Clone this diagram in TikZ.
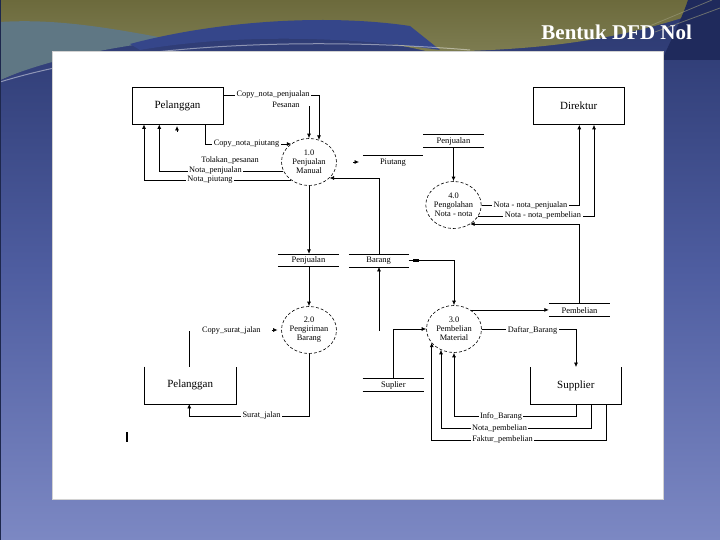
\documentclass[tikz,border=0pt]{standalone}
\usepackage{fontspec}
\setmainfont{Liberation Serif}
\usetikzlibrary{shapes.geometric,arrows.meta,calc}
\definecolor{bgtop}{HTML}{2A376E}
\definecolor{bgmid}{HTML}{4E5DA0}
\definecolor{bgbot}{HTML}{7C88C3}
\definecolor{olivetop}{HTML}{6C6A3C}
\definecolor{olivebot}{HTML}{86865C}
\definecolor{tealgrey}{HTML}{5F7784}
\definecolor{bandblue}{HTML}{35468A}
\definecolor{navy}{HTML}{1F2A5C}
\begin{document}
\begin{tikzpicture}[x=1pt,y=-1pt,
  flow/.style={draw, line width=0.7pt, -{Latex[length=4.5pt,width=4pt]}},
  plain/.style={draw, line width=0.7pt},
  proc/.style={ellipse, draw, dash pattern=on 3pt off 2pt, line width=0.6pt, minimum width=55pt, minimum height=47pt, inner sep=0pt, align=center, font=\fontsize{8.4}{9}\selectfont},
  ent/.style={rectangle, draw, line width=0.8pt, minimum width=91pt, minimum height=37pt, font=\fontsize{11}{12}\selectfont},
  openent/.style={rectangle, minimum width=91pt, minimum height=37pt, font=\fontsize{11}{12}\selectfont},
  store/.style={minimum height=12.4pt, inner sep=0pt, font=\fontsize{8.5}{9}\selectfont},
  lbl/.style={fill=white, inner sep=1.5pt, font=\fontsize{8.3}{9}\selectfont},
  freelbl/.style={inner sep=1pt, font=\fontsize{8.3}{9}\selectfont}
]
\useasboundingbox (0,0) rectangle (720,540);
% background
\shade[top color=bgtop, bottom color=bgbot, middle color=bgmid] (0,0) rectangle (720,540);
\shade[top color=olivetop, bottom color=olivebot] (0,0) -- (720,0) -- (720,5) .. controls (620,42) and (540,50) .. (430,52) .. controls (300,20) and (120,25) .. (0,80) -- cycle;
\fill[tealgrey] (0,22) .. controls (60,18) and (120,30) .. (175,40) .. controls (110,46) and (40,62) .. (0,80) -- cycle;
\fill[bandblue] (130,44) .. controls (220,20) and (330,14) .. (410,26) -- (440,50) .. controls (330,34) and (220,36) .. (140,50) -- cycle;
\fill[navy] (688,0) -- (720,0) -- (720,60) -- (662,60) .. controls (672,38) and (682,18) .. (688,0) -- cycle;
\draw[olivebot!80!white, opacity=0.6, line width=0.8pt] (640,30) -- (712,0) (655,32) -- (720,8);
\draw[white, opacity=0.45, line width=1pt] (0,82) .. controls (120,45) and (300,36) .. (470,50);
\draw[bgtop!70!black, line width=1pt] (0,0) rectangle (720,540);
% title
\node[font=\fontsize{21}{21}\selectfont\bfseries, text=white, anchor=base] (title) at (616.7,39.3) {Bentuk DFD Nol};
% white panel
\fill[white] (52,51.5) rectangle (663.5,499.5);
\draw[gray!35, line width=0.8pt] (52,51.5) rectangle (663.5,499.5);

% entities
\node[ent] (epel1) at (177.5,105.5) {Pelanggan};
\node[ent] (edir) at (578.7,105.9) {Direktur};
\node[openent] (epel2) at (190.2,385.2) {Pelanggan};
\draw[plain] (epel2.north west) -- (epel2.south west) -- (epel2.south east) -- (epel2.north east);
\node[openent] (esup) at (575.8,385.8) {Supplier};
\draw[plain] (esup.north west) -- (esup.south west) -- (esup.south east) -- (esup.north east);

% processes
\node[proc] (p1) at (309,162) {1.0\\Penjualan\\Manual};
\node[proc] (p2) at (309,330) {2.0\\Pengiriman\\Barang};
\node[proc] (p3) at (454,329) {3.0\\Pembelian\\Material};
\node[proc] (p4) at (453.5,205) {4.0\\Pengolahan\\Nota - nota};

% stores
\node[store, minimum width=60pt] (sperj) at (453.5,141) {Penjualan};
\draw[plain] (sperj.north west) -- (sperj.north east) (sperj.south west) -- (sperj.south east);
\node[store, minimum width=60pt] (spiut) at (393,162.2) {Piutang};
\draw[plain] (spiut.north west) -- (spiut.north east);
\node[store, minimum width=61pt] (spenj) at (308.5,260.3) {Penjualan};
\draw[plain] (spenj.north west) -- (spenj.north east) (spenj.south west) -- (spenj.south east);
\node[store, minimum width=59.5pt] (sbar) at (378.7,260.5) {Barang};
\draw[plain] (sbar.north west) -- (sbar.north east) (sbar.south west) -- (sbar.south east);
\node[store, minimum width=61pt] (spemb) at (579.5,310.2) {Pembelian};
\draw[plain] (spemb.north west) -- (spemb.north east) (spemb.south west) -- (spemb.south east);
\node[store, minimum width=61pt] (ssupl) at (393.3,385.2) {Suplier};
\draw[plain] (ssupl.north west) -- (ssupl.north east) (ssupl.south west) -- (ssupl.south east);

% 1 Copy_nota_penjualan
\coordinate (k1) at (319,95);
\draw[flow] (epel1.east |- k1) -- (k1) -- (k1 |- p1.65.5);
\node[lbl] (l1) at (273,95) {Copy\_nota\_penjualan};
% 2 Pesanan
\coordinate (k2) at (309,106.5);
\draw[flow] (k2) -- (p1.north);
\node[freelbl] (l2) at (286,105) {Pesanan};
% 3 Copy_nota_piutang
\coordinate (k3) at (205,144);
\draw[flow] (epel1.south -| k3) -- (k3) -- (k3 -| p1.134.5);
\node[lbl] (l3) at (246.5,144) {Copy\_nota\_piutang};
% 4 Tolakan_pesanan
\node[freelbl] (l4) at (230,161) {Tolakan\_pesanan};
\coordinate (k4a) at (177,132);
\coordinate (k4b) at (177,126);
\draw[flow] (k4a) -- (k4b);
% 5 Nota_penjualan
\coordinate (k5) at (159.3,171);
\draw[flow] (p1.199.5) -- (p1.199.5 -| k5) -- (k5 |- epel1.south);
\node[lbl] (l5) at (215.5,171) {Nota\_penjualan};
% 6 Nota_piutang
\coordinate (k6) at (144,180);
\draw[flow] (p1.225.5) -- (p1.225.5 -| k6) -- (k6 |- epel1.south);
\node[lbl] (l6) at (210,180) {Nota\_piutang};
% 7 Barang -> 1.0
\coordinate (k7) at (379,178);
\draw[flow] (sbar.north -| k7) -- (k7) -- (k7 -| p1.-38.5);
% Piutang arrowhead
\coordinate (k7a) at (353,162);
\coordinate (k7b) at (359,162);
\draw[flow] (k7a) -- (k7b);
% 8
\draw[flow] (p1.south) -- (p1.south |- spenj.north);
% 9
\draw[flow] (sperj.south) -- (p4.north);
% 10 Nota - nota_penjualan
\coordinate (k10) at (579.3,205);
\draw[flow] (p4.east) -- (p4.east -| k10) -- (k10 |- edir.south);
\node[lbl] (l10) at (530.4,205.5) {Nota - nota\_penjualan};
% 11 Nota - nota_pembelian
\coordinate (k11) at (594,216);
\draw[flow] (p4.-24.4) -- (p4.-24.4 -| k11) -- (k11 |- edir.south);
\node[lbl] (l11) at (543,216) {Nota - nota\_pembelian};
% 12 Pembelian -> 4.0
\coordinate (k12) at (579.3,224);
\draw[flow] (spemb.north -| k12) -- (k12) -- (k12 -| p4.-49.5);
% 13 Barang -> 3.0
\draw[flow] (sbar.east) -- (sbar.east -| p3.north) -- (p3.north);
\fill ([xshift=4.2pt,yshift=-1.3pt]sbar.east) rectangle ([xshift=10.5pt,yshift=1.3pt]sbar.east);
% 14
\coordinate (k14) at (379,330.5);
\draw[flow] (k14) -- (k14 |- sbar.south);
% 15
\draw[flow] (p2.north |- spenj.south) -- (p2.north);
% 16 3.0 -> Pembelian
\draw[flow] (p3.49.5) -- (p3.49.5 -| spemb.west);
% 17 Daftar_Barang
\coordinate (k17) at (576,329);
\draw[flow] (p3.east) -- (p3.east -| k17) -- (k17 |- esup.north);
\node[lbl] (l17) at (532.5,330) {Daftar\_Barang};
% 18 Suplier -> 3.0
\draw[flow] (ssupl.north) -- (ssupl.north |- p3.west) -- (p3.west);
% 19 Info_Barang
\coordinate (k19a) at (576.7,416);
\coordinate (k19b) at (454,416);
\draw[flow] (esup.south -| k19a) -- (k19a) -- (k19b) -- (k19b |- p3.south);
\node[lbl] (l19) at (501,416) {Info\_Barang};
% 20 Nota_pembelian
\coordinate (k20a) at (591.7,428.7);
\coordinate (k20b) at (441,428.7);
\draw[flow] (esup.south -| k20a) -- (k20a) -- (k20b) -- (k20b |- p3.237.9);
\node[lbl] (l20) at (499.5,429) {Nota\_pembelian};
% 21 Faktur_pembelian
\coordinate (k21a) at (606,440);
\coordinate (k21b) at (431.7,440);
\draw[flow] (esup.south -| k21a) -- (k21a) -- (k21b) -- (k21b |- p3.211.7);
\node[lbl] (l21) at (502.5,440) {Faktur\_pembelian};
% 22 Copy_surat_jalan
\coordinate (k22) at (189.3,331);
\draw[plain] (epel2.north -| k22) -- (k22);
\node[freelbl] (l22) at (231.3,330.5) {Copy\_surat\_jalan};
\coordinate (k22a) at (271.5,330);
\coordinate (k22b) at (277.5,330);
\draw[flow] (k22a) -- (k22b);
% 23 Surat_jalan
\coordinate (k23) at (189.3,416);
\draw[flow] (p2.south) -- (p2.south |- k23) -- (k23) -- (k23 |- epel2.south);
\node[lbl] (l23) at (261.5,416) {Surat\_jalan};
% cursor mark
\coordinate (c1) at (127,432);
\coordinate (c2) at (127,442);
\draw[line width=1.8pt] (c1) -- (c2);
\end{tikzpicture}
\end{document}
